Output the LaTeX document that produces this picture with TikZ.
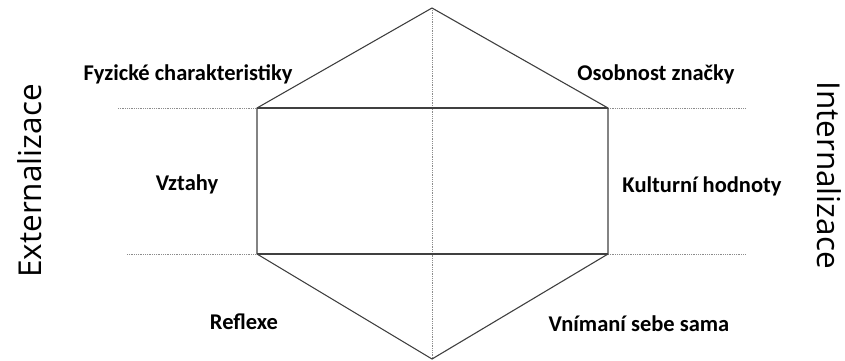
\documentclass[tikz,border=0pt]{standalone}
\usepackage{fontspec}
\setmainfont{Carlito}
\newfontfamily\sidefont{Open Sans}
\tikzset{
  facet/.style={font=\bfseries\fontsize{22.5}{25}\selectfont, text=black},
  side/.style={font=\sidefont\fontsize{31.5}{34}\selectfont, text=black},
  edge/.style={draw=black!75, line width=1.1pt},
  guide/.style={draw=black!45, densely dotted, line width=0.8pt}
}
\begin{document}
\begin{tikzpicture}[x=1pt, y=1pt]
          \useasboundingbox (0,0) rectangle (845,-360); %
          \coordinate (top) at (432,-8); %
          \coordinate (bottom) at (432,-359); %
          \coordinate (tl) at (257,-108); %
          \coordinate (tr) at (608,-108); %
          \coordinate (bl) at (257,-254); %
          \coordinate (br) at (608,-254); %
          \coordinate (gtl) at (118,-108); %
          \coordinate (gtr) at (746,-108); %
          \coordinate (gbl) at (127,-254); %
          \coordinate (gbr) at (746,-254); %
          \draw[guide] (top) -- (bottom); %
          \draw[guide] (gtl) -- (tl); %
          \draw[guide] (tr) -- (gtr); %
          \draw[guide] (gbl) -- (bl); %
          \draw[guide] (br) -- (gbr); %
          \draw[edge] (top) -- (tr) -- (br) -- (bottom) -- (bl) -- (tl) -- cycle; %
          \draw[edge] (tl) -- (tr); %
          \draw[edge] (bl) -- (br); %
          \node[facet] (fyz) at (188,-74) {Fyzické charakteristiky}; %
          \node[facet] (oso) at (656,-74) {Osobnost značky}; %
          \node[facet] (vzt) at (187,-184) {Vztahy}; %
          \node[facet] (kul) at (702,-186) {Kulturní hodnoty}; %
          \node[facet] (ref) at (244,-322) {Reflexe}; %
          \node[facet] (vni) at (639,-324) {Vnímaní sebe sama}; %
          \node[side, rotate=90] (ext) at (30,-181) {Externalizace}; %
          \node[side, rotate=-90] (int) at (829,-175) {Internalizace}; %
        \end{tikzpicture}
\end{document}
